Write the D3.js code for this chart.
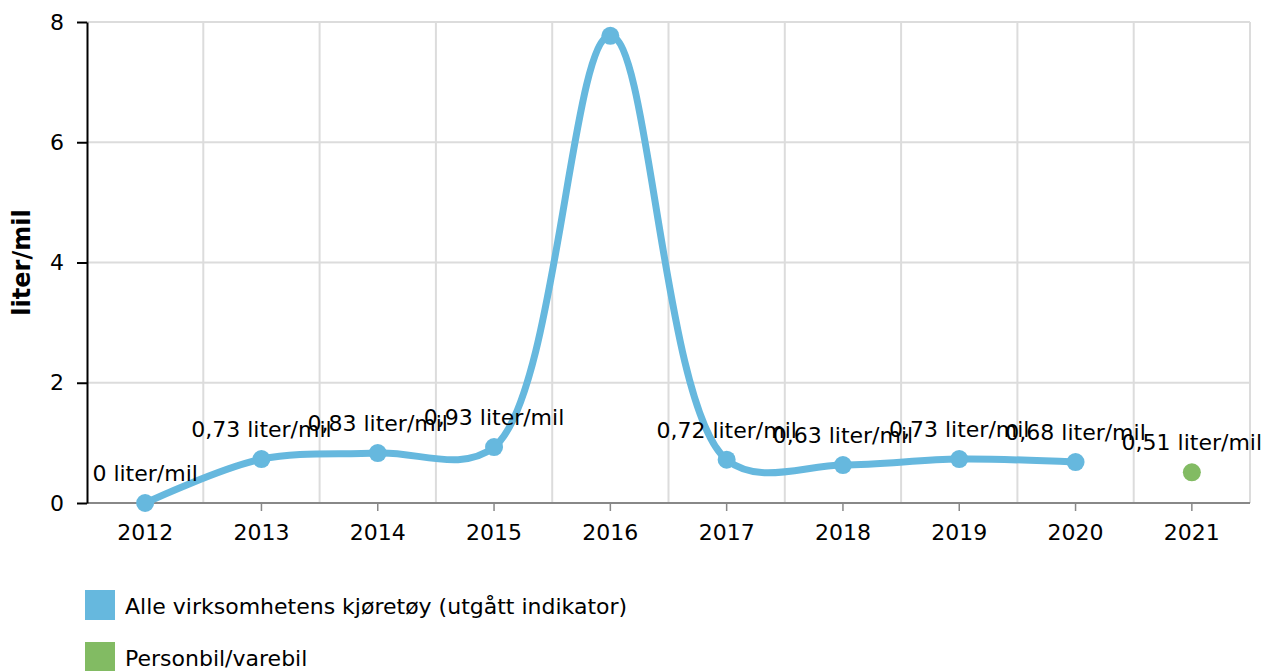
<!DOCTYPE html>
<html>
<head>
<meta charset="utf-8">
<script src="https://cdn.jsdelivr.net/npm/d3@7"></script>
<style>
  body { margin: 0; background: #fff; }
  svg { font-family: "DejaVu Sans", Verdana, sans-serif; }
</style>
</head>
<body>
<svg width="1278" height="671"></svg>
<script>
// data
const years = ["2012", "2013", "2014", "2015", "2016", "2017", "2018", "2019", "2020", "2021"];
const alleValues = [0, 0.73, 0.83, 0.93, 7.77, 0.72, 0.63, 0.73, 0.68, null];
const personbilValues = [null, null, null, null, null, null, null, null, null, 0.51];
const yTicks = [0, 2, 4, 6, 8];
const seriesNames = ["Alle virksomhetens kjøretøy (utgått indikator)", "Personbil/varebil"];
const seriesColors = ["#66b8de", "#82bb63"];

let svg = d3.select("svg");
let margin = { left: 87, right: 28, top: 22, bottom: 168 };
let width = 1278, height = 671;

let x = d3.scaleBand()
  .domain(years)
  .range([margin.left, width - margin.right]);

let y = d3.scaleLinear()
  .domain([0, 8])
  .range([height - margin.bottom, margin.top]);

let fmt = v => String(v).replace(".", ",") + " liter/mil";

// grid
let grid = svg.append("g");
grid.selectAll(".hg")
  .data(yTicks.filter(t => t > 0))
  .enter().append("line")
  .attr("x1", margin.left).attr("x2", width - margin.right)
  .attr("y1", d => y(d)).attr("y2", d => y(d))
  .attr("stroke", "#dcdcdc").attr("stroke-width", 2);
grid.selectAll(".vg")
  .data(years.slice(1).concat(["end"]))
  .enter().append("line")
  .attr("x1", (d, i) => margin.left + x.step() * (i + 1))
  .attr("x2", (d, i) => margin.left + x.step() * (i + 1))
  .attr("y1", margin.top).attr("y2", y(0))
  .attr("stroke", "#dcdcdc").attr("stroke-width", 2);

// x axis
let xAxis = svg.append("g")
  .attr("transform", `translate(0,${y(0)})`)
  .call(d3.axisBottom(x).tickSize(8).tickPadding(13));
xAxis.select(".domain").attr("stroke", "#888").attr("stroke-width", 2)
  .attr("d", `M${margin.left},0H${width - margin.right}`);
xAxis.selectAll(".tick line").attr("stroke", "#888").attr("stroke-width", 1.5);
xAxis.selectAll("text").attr("font-size", 22).attr("fill", "#000")
  .attr("font-family", "DejaVu Sans");

// y axis
let yAxis = svg.append("g")
  .attr("transform", `translate(${margin.left},0)`)
  .call(d3.axisLeft(y).tickValues(yTicks).tickSize(10).tickPadding(13).tickSizeOuter(0));
yAxis.select(".domain").attr("stroke", "#000").attr("stroke-width", 2);
yAxis.selectAll(".tick line").attr("stroke", "#000").attr("stroke-width", 2);
yAxis.selectAll("text").attr("font-size", 22).attr("fill", "#000")
  .attr("font-family", "DejaVu Sans");

svg.append("text")
  .attr("transform", `translate(30,${(margin.top + y(0)) / 2}) rotate(-90)`)
  .attr("text-anchor", "middle")
  .attr("font-size", 24).attr("font-weight", "bold")
  .text("liter/mil");

// line
let alle = years.map((yr, i) => ({ year: yr, value: alleValues[i] })).filter(d => d.value !== null);
let pers = years.map((yr, i) => ({ year: yr, value: personbilValues[i] })).filter(d => d.value !== null);
let cx = d => x(d.year) + x.bandwidth() / 2;

let line = d3.line()
  .x(cx)
  .y(d => y(d.value))
  .curve(d3.curveCatmullRom);

svg.append("path")
  .datum(alle)
  .attr("d", line)
  .attr("fill", "none")
  .attr("stroke", seriesColors[0])
  .attr("stroke-width", 7)
  .attr("stroke-linejoin", "round");

svg.selectAll(".dot-a")
  .data(alle).enter().append("circle")
  .attr("cx", cx).attr("cy", d => y(d.value))
  .attr("r", 9).attr("fill", seriesColors[0]);

svg.selectAll(".dot-p")
  .data(pers).enter().append("circle")
  .attr("cx", cx).attr("cy", d => y(d.value))
  .attr("r", 9).attr("fill", seriesColors[1]);

// labels (the top label is not shown in the original)
svg.selectAll(".lbl")
  .data(alle.concat(pers).filter(d => d.value < 7))
  .enter().append("text")
  .attr("x", cx)
  .attr("y", d => y(d.value) - 22)
  .attr("text-anchor", "middle")
  .attr("font-size", 22)
  .text(d => fmt(d.value));

// legend
let legend = svg.append("g");
let li = legend.selectAll("g")
  .data(seriesNames).enter().append("g")
  .attr("transform", (d, i) => `translate(85,${590 + i * 52})`);
li.append("rect")
  .attr("width", 30).attr("height", 30)
  .attr("fill", (d, i) => seriesColors[i]);
li.append("text")
  .attr("x", 40).attr("y", 24)
  .attr("font-size", 22)
  .text(d => d);
</script>
</body>
</html>
